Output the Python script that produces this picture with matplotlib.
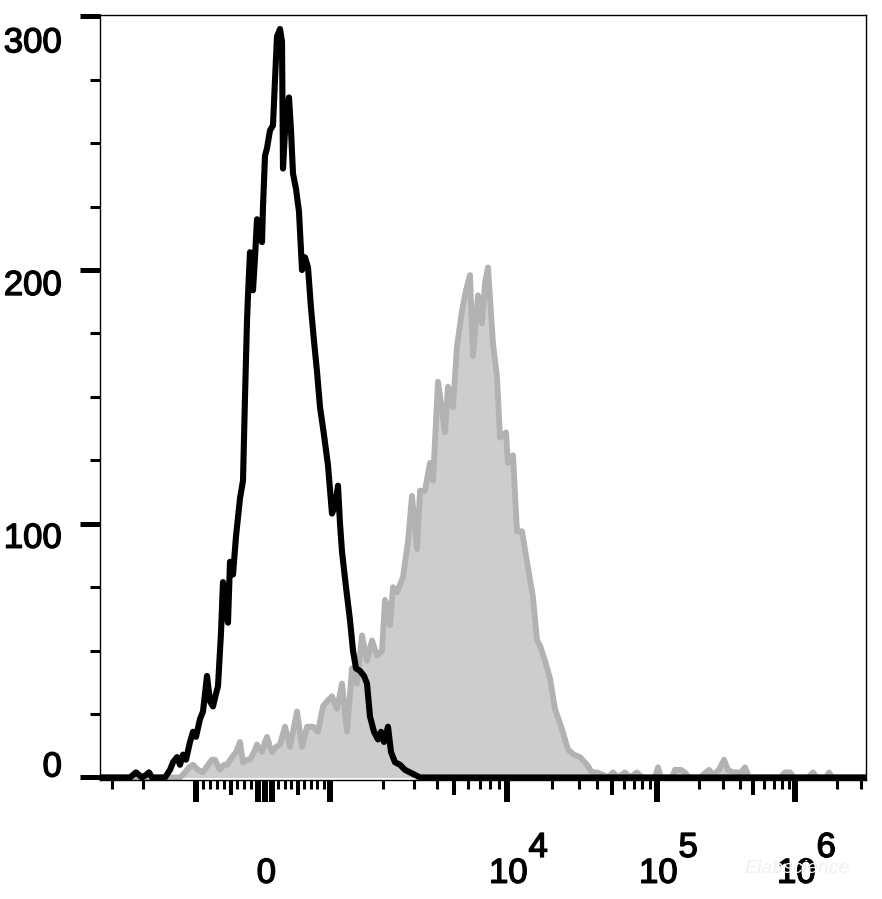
import numpy as np
import matplotlib
matplotlib.use('Agg')
import matplotlib.pyplot as plt
import matplotlib.patheffects as pe

plt.rcParams['font.family'] = ['Liberation Sans', 'DejaVu Sans']

# histogram data, x in display channels (0 = left edge of plot)
iso_ch = [0, 30, 33, 36, 39, 42, 46, 49, 52, 65, 70, 73, 77, 80, 83, 86, 90, 93, 96,
          100, 103, 107, 110, 113, 116, 118, 121, 123, 126, 128, 130, 133, 136, 140,
          143, 145, 147, 148, 150, 153, 155, 157, 160, 162, 163, 165, 167, 170, 173,
          175, 177, 180, 182, 183, 186, 189, 191, 193, 196, 199, 202, 205, 208, 211,
          214, 217, 220, 224, 228, 232, 235, 238, 240, 242, 246, 250, 253, 256, 260,
          264, 267, 270, 274, 278, 281, 284, 288, 291, 295, 300, 305, 310, 315, 320, 766]
iso_count = [0, 0, 1, 2, 1, 0, 1, 2, 0, 0, 3, 6, 8, 5, 9, 7, 14, 18, 16,
             23, 26, 40, 30, 28, 33, 36, 57, 77, 65, 61, 85, 80, 95, 110,
             117, 150, 180, 190, 207, 192, 205, 220, 215, 211, 225, 245, 248, 255, 257,
             275, 292, 295, 290, 240, 262, 268, 255, 238, 232, 223, 200, 205, 201, 185,
             172, 160, 146, 135, 123, 104, 107, 115, 100, 89, 75, 62, 50, 43, 42,
             40, 37, 24, 18, 15, 18, 14, 20, 10, 6, 5, 3, 2, 1, 0, 0]

pos_ch = [0, 80, 85, 89, 93, 98, 103, 108, 112, 115, 120, 124, 127, 132, 136, 140,
          143, 147, 150, 154, 157, 162, 165, 167, 170, 172, 176, 180, 185, 190, 194,
          197, 202, 207, 213, 218, 223, 227, 232, 237, 242, 247, 252, 257, 262, 267,
          272, 277, 282, 285, 287, 290, 293, 297, 303, 308, 312, 317, 320, 325, 330,
          333, 338, 345, 348, 353, 357, 362, 366, 370, 373, 378, 382, 385, 388, 393,
          397, 400, 406, 408, 413, 417, 422, 427, 433, 437, 440, 445, 450, 455, 462,
          468, 474, 480, 487, 492, 497, 503, 508, 513, 518, 525, 530, 537, 542, 555,
          558, 561, 572, 575, 581, 585, 589, 600, 606, 609, 613, 619, 624, 628, 633,
          641, 645, 649, 680, 685, 690, 694, 708, 713, 717, 726, 729, 732, 766]
pos_count = [0, 0, 2, 4, 5, 3, 2, 5, 7, 7, 3, 5, 5, 8, 10, 14,
             6, 7, 7, 10, 13, 10, 14, 16, 12, 10, 12, 13, 20, 12, 20,
             26, 12, 20, 20, 18, 28, 30, 32, 27, 37, 18, 43, 37, 56, 46,
             54, 48, 50, 70, 68, 60, 75, 73, 79, 93, 111, 90, 113, 113, 124,
             117, 156, 136, 154, 146, 170, 184, 192, 198, 166, 190, 179, 195, 201, 171,
             158, 134, 136, 124, 127, 97, 97, 85, 71, 54, 52, 46, 39, 27, 19,
             11, 9, 8, 5, 2, 2, 1, 0, 2, 0, 2, 0, 2, 0, 0,
             4, 0, 0, 3, 3, 2, 0, 0, 2, 3, 1, 3, 7, 3, 2,
             2, 4, 0, 0, 2, 2, 0, 0, 2, 0, 0, 2, 0, 0]

# display scale: linear between -1e3 and 1e3, log outside
scale_t = [-2, -1, 0, 1, 2, 3, 4, 5]
scale_ch = [-81, 96, 165, 230, 407, 557, 695, 833]

major_vals = [-1000, -100, 0, 100, 1000, 1e4, 1e5, 1e6]
medium_vals = [-500, 500, 5e3, 5e4, 5e5]
minor_vals = [-3000, -2000, -900, -800, -700, -600, -400, -300, -200,
              200, 300, 400, 600, 700, 800, 900]
minor_vals += [k * 10.0 ** e for e in (3, 4, 5, 6) for k in (2, 3, 4, 6, 7, 8, 9)]
xlabels = {0: ('0', None), 1e4: ('10', '4'), 1e5: ('10', '5'), 1e6: ('10', '6')}

yticks = [0, 100, 200, 300]
ylabel_dy = [0.7, -17.3, -18.0, -25.9]   # baseline offsets (pt)

# slightly heavier text like the original export
heavy = [pe.withStroke(linewidth=1.0, foreground='black')]


def to_t(v):
    v = np.asarray(v, dtype=float)
    a = np.abs(v)
    return np.where(a <= 1000, v / 1000,
                    np.sign(v) * (1 + np.log10(np.maximum(a, 1) / 1000)))


def to_channel(v):
    return np.interp(to_t(v), scale_t, scale_ch)


XMAX = 766
fig = plt.figure(figsize=(8.82, 8.99), dpi=100)
ax = fig.add_axes([100 / 882, 1 - 780 / 899, 766 / 882, 765 / 899])

ax.fill_between(pos_ch, pos_count, 0, color='#cdcdcd', lw=0, zorder=1)
ax.plot(pos_ch, pos_count, color='#b2b2b2', lw=4.2, zorder=2)
ax.plot(iso_ch, iso_count, color='black', lw=4.4, zorder=3)

ax.set_xlim(0, XMAX)
ax.set_ylim(-1, 300.5)

for s in ax.spines.values():
    s.set_linewidth(1.0)

# x ticks
maj = [to_channel(v) for v in major_vals + medium_vals]
mnr = [c for c in (to_channel(v) for v in minor_vals) if 0 < c < XMAX]
ax.set_xticks(maj)
ax.set_xticks(mnr, minor=True)
ax.set_xticklabels([])
ax.tick_params(axis='x', which='minor', length=6.5, width=2.2, direction='out')
ax.tick_params(axis='x', which='major', length=15.8, width=4.3, direction='out')
for i, t in enumerate(ax.xaxis.get_major_ticks()):
    if i >= len(major_vals):
        t.tick1line.set_markersize(10.8)
        t.tick1line.set_markeredgewidth(2.9)

for v, (base, ex) in xlabels.items():
    c = float(to_channel(v))
    ax.annotate(base, xy=(c, 0), xycoords=('data', 'axes fraction'),
                xytext=(1, -74), textcoords='offset points',
                ha='center', va='baseline', fontsize=25, path_effects=heavy)
    if ex:
        ax.annotate(ex, xy=(c, 0), xycoords=('data', 'axes fraction'),
                    xytext=(15.5, -55.4), textcoords='offset points',
                    ha='left', va='baseline', fontsize=25, path_effects=heavy)

# y ticks
ax.set_yticks(yticks)
ax.set_yticks([v for v in range(25, 300, 25) if v % 100], minor=True)
ax.set_yticklabels([])
ax.tick_params(axis='y', which='major', length=14.4, width=3.6, direction='out')
ax.tick_params(axis='y', which='minor', length=7.2, width=2.2, direction='out')
for v, dy in zip(yticks, ylabel_dy):
    ax.annotate(str(v), xy=(0, v), xycoords=('axes fraction', 'data'),
                xytext=(-27.4, dy), textcoords='offset points',
                ha='right', va='baseline', fontsize=25, path_effects=heavy)

fig.text(797 / 882, 1 - 873 / 899, 'Elabscience', color='#f0f0f0',
         fontsize=14, ha='center', va='baseline', style='italic')

fig.savefig('out.png', dpi=100)
